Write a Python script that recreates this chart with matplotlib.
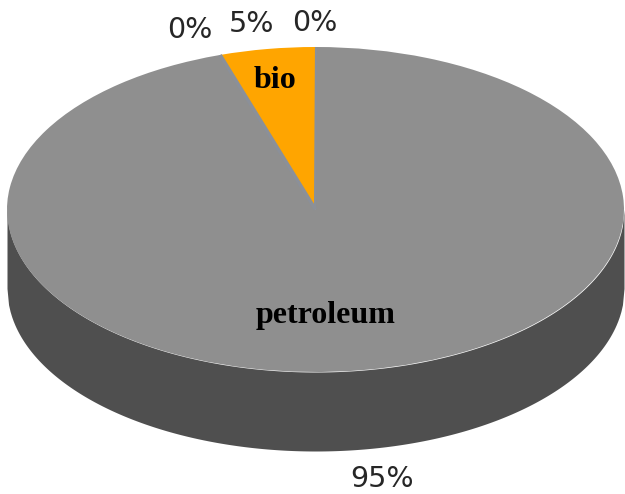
import matplotlib
matplotlib.use("Agg")
import matplotlib.pyplot as plt
import numpy as np

# slices run counterclockwise from 12 o'clock
values = [5, 0, 95, 0]
pct_labels = ["5%", "0%", "95%", "0%"]
colors = ["#ffa500", "#8b9099", "#8f8f8f", "#8b9099"]
names = ["bio", "petroleum"]

W, H = 625, 494
cx, cy = 315.5, 209.5   # centre of the top face, pixels
rx, ry = 308.5, 162.5   # radii of the top face, pixels
depth = 79 / ry         # height of the disc in y units

fig = plt.figure(figsize=(W / 100, H / 100), dpi=100)
ax = fig.add_axes([0, 0, 1, 1])

# side of the disc
t = np.linspace(-1, 1, 400)
lower = -np.sqrt(1 - t**2)
ax.fill_between(t, lower - depth, lower, color="#4f4f4f", lw=0, zorder=1)

# top face
ax.pie(values, colors=colors, startangle=90, radius=1, counterclock=True,
       wedgeprops={"zorder": 2, "linewidth": 0})

# pie() forces an equal aspect, the tilted look needs the ellipse
ax.set_aspect("auto")
ax.set_xlim(-cx / rx, (W - cx) / rx)
ax.set_ylim((cy - H) / ry, cy / ry)
ax.axis("off")

# the empty slices only show as a thin sliver next to the bio wedge
for share, width in zip(np.cumsum(values)[[1, 3]], [2.5, 1.5]):
    ang = np.pi / 2 + 2 * np.pi * share / sum(values)
    ax.plot([0, np.cos(ang)], [0, np.sin(ang)], color="#8b9099", lw=width,
            zorder=3, solid_capstyle="butt")


def pix(px, py):
    return (px - cx) / rx, (cy - py) / ry


pct_pos = [(252, 24), (190, 30), (382, 479), (315, 23)]
for lab, (px, py) in zip(pct_labels, pct_pos):
    x, y = pix(px, py)
    ax.text(x, y, lab, fontsize=20.5, color="#262626", ha="center", va="center",
            family="DejaVu Sans", zorder=5)

name_pos = [(275, 81), (326, 315)]
for lab, (px, py) in zip(names, name_pos):
    x, y = pix(px, py)
    ax.text(x, y, lab, fontsize=23, color="black", ha="center", va="center",
            family="Liberation Serif", fontweight="bold", zorder=5)

fig.savefig("out.png", dpi=100, facecolor="white")
